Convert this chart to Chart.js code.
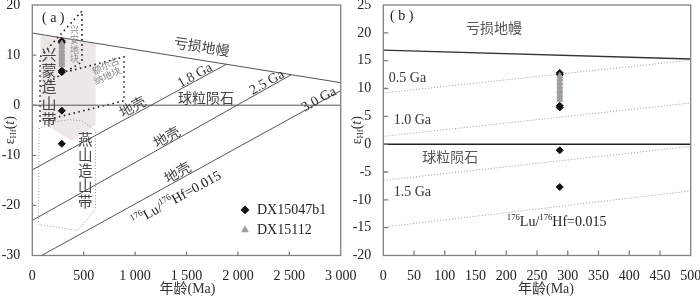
<!DOCTYPE html>
<html>
<head>
<meta charset="utf-8">
<script src="https://cdn.jsdelivr.net/npm/chart.js@4/dist/chart.umd.min.js"></script>
<style>
  html, body { margin: 0; padding: 0; background: #fff; }
  #wrap { position: relative; width: 700px; height: 300px; overflow: hidden; }
  #chartA { position: absolute; left: 0; top: 0; }
  #chartB { position: absolute; left: 350px; top: 0; }
</style>
</head>
<body>
<div id="wrap">
  <canvas id="chartA" width="370" height="300"></canvas>
  <canvas id="chartB" width="350" height="300"></canvas>
</div>
<script>
// zircon Hf data: age (Ma) and epsilon Hf(t)
const ageDX15047b1 = [287, 287, 287, 287, 287, 287];
const epsDX15047b1 = [12.8, 12.5, 6.9, 6.6, -1.1, -7.7];
const ageDX15112 = [287, 287, 287, 287, 287, 287, 287, 287, 287, 287, 287, 287, 287, 287];
const epsDX15112 = [12.3, 11.8, 11.6, 11.1, 10.9, 10.4, 10.2, 9.8, 9.5, 9.3, 8.9, 8.6, 8.3, 8.0];

// tick labels
const ticksAgeA = [0, 500, 1000, 1500, 2000, 2500, 3000];
const ticksEpsA = [-30, -20, -10, 0, 10, 20];
const ticksAgeB = [0, 50, 100, 150, 200, 250, 300, 350, 400, 450, 500];
const ticksEpsB = [-20, -15, -10, -5, 0, 5, 10, 15, 20, 25];

// evolution lines of panel (a), [age, eHf]
const dmA = [[0, 14.4], [3000, 4.5]];
const churA = [[0, 0], [3000, 0]];
const crust18A = [[0, -12.9], [1890, 8.2]];
const crust25A = [[0, -23.0], [2520, 6.1]];
const crust30A = [[90, -30], [3000, 2.9]];

// tectonic fields of panel (a)
const xingmengShade = [[80, 14.1], [617, 12.4], [617, -3.9], [386, -7.1], [80, -3.3], [80, 14.1]];
const xinganField = [[75, -3.3], [75, 9.6], [483, 18.8], [483, 8.6], [82, 3.7]];
const ergunaField = [[368, 6.85], [892, 9.64], [892, 0.88], [143, -2.9]];
const yanshanField = [[65, -4.7], [192, -3.4], [357, -2.9], [483, -3.1], [615, -5.1],
                      [615, -20.6], [445, -25.0], [60, -23.8], [65, -4.7]];

// evolution lines of panel (b)
const dmB = [[0, 16.9], [500, 15.3]];
const churB = [[0, 0], [500, 0]];
const crust05B = [[0, 9.2], [500, 15.1]];
const crust10B = [[0, 1.4], [500, 7.4]];
const crustMidB = [[0, -6.5], [500, -0.4]];
const crust15B = [[0, -14.9], [500, -8.4]];

const SERIF = "'Liberation Serif', 'Noto Sans CJK SC', serif";
const CJK = "'Noto Sans CJK SC', sans-serif";
const luHf = [{t: '176', k: 'sup'}, {t: 'Lu/'}, {t: '176', k: 'sup'}, {t: 'Hf=0.015'}];
const epsTitle = [{t: 'ε'}, {t: 'Hf', k: 'sub'}, {t: '('}, {t: 't', k: 'it'}, {t: ')'}];

function pts(pairs) {
    return pairs.map(p => ({x: p[0], y: p[1]}));
}

function zip(ages, vals) {
    return ages.map((a, i) => ({x: a, y: vals[i]}));
}

function line(pairs, style) {
    return Object.assign({data: pts(pairs), showLine: true, pointRadius: 0, fill: false,
        borderColor: '#555', borderWidth: 1, order: 5}, style);
}

/**
 * Draws a string made of normal / sup / sub / italic parts.
 */
function drawRich(ctx, parts, x, y, size, fam, angle, align, color) {
    ctx.save();
    ctx.translate(x, y);
    ctx.rotate(angle);
    ctx.fillStyle = color;
    ctx.textBaseline = 'middle';
    ctx.textAlign = 'left';
    const fs = p => (p.k === 'sup' || p.k === 'sub') ? size * 0.62 : size;
    const setF = p => { ctx.font = (p.k === 'it' ? 'italic ' : '') + fs(p) + 'px ' + fam; };
    let w = 0;
    parts.forEach(p => { setF(p); w += ctx.measureText(p.t).width; });
    let cx = align === 'left' ? 0 : -w / 2;
    parts.forEach(p => {
        setF(p);
        const dy = p.k === 'sup' ? -size * 0.35 : (p.k === 'sub' ? size * 0.3 : 0);
        ctx.fillText(p.t, cx, dy);
        cx += ctx.measureText(p.t).width;
    });
    ctx.restore();
}

const decor = {
    id: 'decor',
    afterDraw(chart, args, o) {
        const {ctx, chartArea: a} = chart;
        const sx = chart.scales.x, sy = chart.scales.y;
        const px = v => sx.getPixelForValue(v);
        const py = v => sy.getPixelForValue(v);
        ctx.save();
        // frame and inward ticks
        ctx.strokeStyle = '#808080';
        ctx.lineWidth = 1.3;
        ctx.strokeRect(a.left, a.top, a.width, a.height);
        ctx.beginPath();
        sx.ticks.forEach(t => {
            if (t.value > sx.min && t.value < sx.max) {
                ctx.moveTo(px(t.value), a.bottom);
                ctx.lineTo(px(t.value), a.bottom - o.tick);
            }
        });
        sy.ticks.forEach(t => {
            if (t.value > sy.min && t.value < sy.max) {
                ctx.moveTo(a.left, py(t.value));
                ctx.lineTo(a.left + o.tick, py(t.value));
            }
        });
        ctx.stroke();

        // labels inside the plot
        o.texts.forEach(it => {
            let ang = 0;
            if (it.along) {
                const [p, q] = it.along;
                ang = Math.atan2(py(q[1]) - py(p[1]), px(q[0]) - px(p[0]));
            } else if (it.angle) {
                ang = it.angle * Math.PI / 180;
            }
            const x = px(it.at[0]), y = py(it.at[1]);
            const fam = it.fam || SERIF;
            const size = it.size || 14;
            const color = it.color || '#333';
            if (it.vert) {
                ctx.font = size + 'px ' + fam;
                ctx.fillStyle = color;
                ctx.textAlign = 'center';
                ctx.textBaseline = 'middle';
                Array.from(it.t).forEach((ch, i) => ctx.fillText(ch, x, y + i * it.vert));
            } else {
                const parts = typeof it.t === 'string' ? [{t: it.t}] : it.t;
                drawRich(ctx, parts, x, y, size, fam, ang, it.align, color);
            }
        });

        // legend
        if (o.legend) {
            const lx = px(o.legend.at[0]), ly = py(o.legend.at[1]);
            o.legend.items.forEach((idx, i) => {
                const ds = chart.data.datasets[idx];
                const y = ly + i * o.legend.gap;
                ctx.fillStyle = ds.backgroundColor;
                ctx.strokeStyle = ds.borderColor;
                Chart.helpers.drawPoint(ctx, {pointStyle: ds.pointStyle, radius: ds.pointRadius,
                    rotation: 0, borderWidth: 1}, lx, y);
                drawRich(ctx, [{t: ds.label}], lx + 12, y, 14, SERIF, 0, 'left', '#222');
            });
        }

        // axis titles
        drawRich(ctx, [{t: '年龄(Ma)'}], (a.left + a.right) / 2 + o.xTitleDx, 289, 14, SERIF, 0, 'center', '#333');
        drawRich(ctx, epsTitle, o.yTitleX, (a.top + a.bottom) / 2, 14, SERIF, -Math.PI / 2, 'center', '#333');
        ctx.restore();
    }
};

function makeChart(id, cfg) {
    const tickFont = {family: SERIF, size: 14};
    return new Chart(document.getElementById(id), {
        type: 'scatter',
        data: {datasets: cfg.datasets},
        options: {
            responsive: false,
            animation: false,
            events: [],
            layout: {padding: {top: 4, right: cfg.padRight, bottom: 0, left: 0}},
            plugins: {
                legend: {display: false},
                tooltip: {enabled: false},
                decor: cfg.decor
            },
            scales: {
                x: {
                    type: 'linear',
                    min: cfg.xTicks[0],
                    max: cfg.xTicks[cfg.xTicks.length - 1],
                    grid: {display: false},
                    border: {display: false},
                    afterBuildTicks: s => { s.ticks = cfg.xTicks.map(v => ({value: v})); },
                    ticks: {
                        font: tickFont, color: '#222', padding: 4, maxRotation: 0, autoSkip: false,
                        callback: v => v >= 1000 ? String(v).replace(/(\d)(\d{3})$/, '$1 $2') : String(v)
                    },
                    afterFit: s => { s.height = 44.5; s.paddingLeft = 0; s.paddingRight = 0; }
                },
                y: {
                    type: 'linear',
                    min: cfg.yTicks[0],
                    max: cfg.yTicks[cfg.yTicks.length - 1],
                    grid: {display: false},
                    border: {display: false},
                    afterBuildTicks: s => { s.ticks = cfg.yTicks.map(v => ({value: v})); },
                    ticks: {font: tickFont, color: '#222', padding: 4, autoSkip: false},
                    afterFit: s => { s.width = cfg.yWidth; s.paddingTop = 0; s.paddingBottom = 0; }
                }
            }
        },
        plugins: [decor]
    });
}

function sampleSets() {
    return [
        {label: 'DX15112', data: zip(ageDX15112, epsDX15112), pointStyle: 'triangle', pointRadius: 3.3,
            backgroundColor: '#a59f9d', borderColor: '#a59f9d', borderWidth: 1, order: 0},
        {label: 'DX15047b1', data: zip(ageDX15047b1, epsDX15047b1), pointStyle: 'rectRot', pointRadius: 3.5,
            backgroundColor: '#111', borderColor: '#111', borderWidth: 1, order: 1}
    ];
}

const dotted = {borderColor: '#222', borderWidth: 1.6, borderDash: [1.6, 3.4]};
const fineDots = {borderColor: '#aaa', borderWidth: 1, borderDash: [1.2, 1.8]};

makeChart('chartA', {
    xTicks: ticksAgeA,
    yTicks: ticksEpsA,
    yWidth: 32.3,
    padRight: 29.3,
    datasets: sampleSets().concat([
        line(xingmengShade, {fill: 'shape', backgroundColor: '#ede7e5', borderWidth: 0, order: 9}),
        line(yanshanField, {borderColor: '#9a9a9a', borderWidth: 1, borderDash: [1, 2], order: 8}),
        line(xinganField, Object.assign({order: 7}, dotted)),
        line(ergunaField, Object.assign({order: 7}, dotted)),
        line(dmA, {}),
        line(churA, {}),
        line(crust18A, {}),
        line(crust25A, {}),
        line(crust30A, {})
    ]),
    decor: {
        tick: 4,
        xTitleDx: 1,
        yTitleX: 10,
        legend: {at: [2069, -20.9], gap: 20, items: [1, 0]},
        texts: [
            {t: '( a )', at: [94, 17.4], align: 'left', color: '#222'},
            {t: '亏损地幔', at: [1648, 11.7], fam: CJK, along: dmA, color: '#444'},
            {t: '球粒陨石', at: [1690, 1.4], fam: CJK, color: '#444'},
            {t: '1.8 Ga', at: [1583, 5.9], along: crust18A},
            {t: '2.5 Ga', at: [2283, 4.5], along: crust25A},
            {t: '3.0 Ga', at: [2789, 1.1], along: crust30A},
            {t: '地壳', at: [975, -0.3], fam: CJK, along: crust18A, color: '#444'},
            {t: '地壳', at: [1307, -6.3], fam: CJK, along: crust25A, color: '#444'},
            {t: '地壳', at: [1412, -13.4], fam: CJK, along: crust30A, color: '#444'},
            {t: luHf, at: [1405, -18.7], along: crust30A, color: '#222'},
            {t: '兴蒙造山带', at: [162, 10.2], vert: 16.3, size: 15, fam: CJK, color: '#444'},
            {t: '兴安地块', at: [410, 15.0], vert: 9.6, size: 9, fam: CJK, color: '#888'},
            {t: '额尔古', at: [714, 7.9], angle: -25, size: 9.5, fam: CJK, color: '#888'},
            {t: '纳地块', at: [730, 5.9], angle: -25, size: 9.5, fam: CJK, color: '#888'},
            {t: '燕山造山带', at: [515, -6.75], vert: 15.5, size: 14.5, fam: CJK, color: '#444'}
        ]
    }
});

makeChart('chartB', {
    xTicks: ticksAgeB,
    yTicks: ticksEpsB,
    yWidth: 33.3,
    padRight: 9.3,
    datasets: sampleSets().concat([
        line(dmB, {borderColor: '#333', borderWidth: 1.4}),
        line(churB, {borderColor: '#222', borderWidth: 1.5}),
        line(crust05B, Object.assign({}, fineDots)),
        line(crust10B, Object.assign({}, fineDots)),
        line(crustMidB, Object.assign({}, fineDots)),
        line(crust15B, Object.assign({}, fineDots))
    ]),
    decor: {
        tick: 5,
        xTitleDx: 9,
        yTitleX: 7,
        texts: [
            {t: '( b )', at: [11, 22.9], align: 'left', color: '#222'},
            {t: '亏损地幔', at: [180, 20.9], fam: CJK, color: '#555'},
            {t: '0.5 Ga', at: [9, 11.8], align: 'left'},
            {t: '1.0 Ga', at: [17, 4.3], align: 'left'},
            {t: '球粒陨石', at: [109, -2.3], fam: CJK, color: '#555'},
            {t: '1.5 Ga', at: [17, -8.7], align: 'left'},
            {t: luHf, at: [282, -14.05], color: '#222'}
        ]
    }
});
</script>
</body>
</html>
